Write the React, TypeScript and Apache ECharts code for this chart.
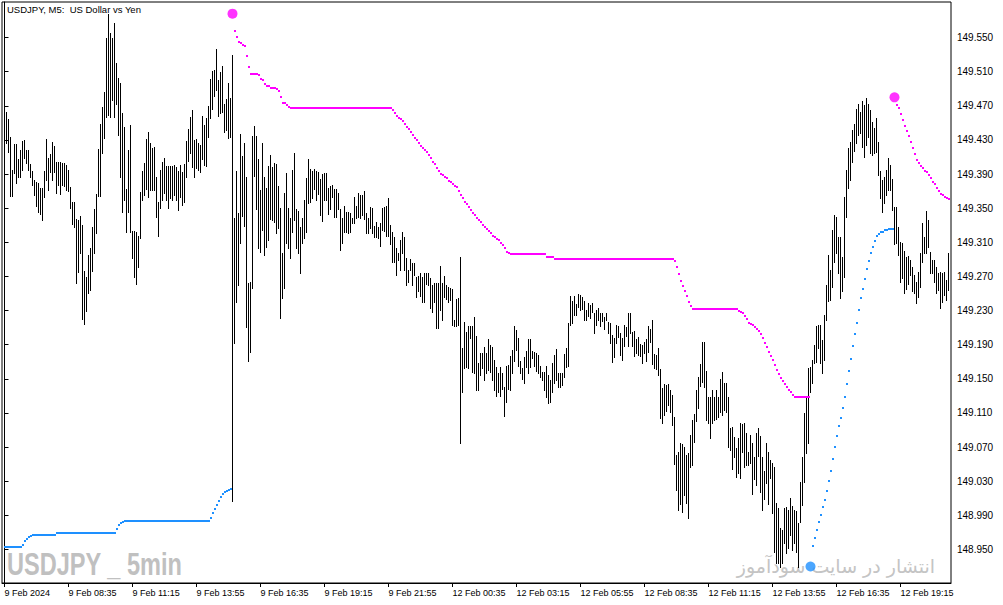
import React, { useEffect, useRef } from "react";
import * as echarts from "echarts";

// Time labels on the x axis (one every 32 five-minute bars)
const TIME_LABELS = [
  "9 Feb 2024", "9 Feb 08:35", "9 Feb 11:15", "9 Feb 13:55", "9 Feb 16:35",
  "9 Feb 19:15", "9 Feb 21:55", "12 Feb 00:35", "12 Feb 03:15", "12 Feb 05:55",
  "12 Feb 08:35", "12 Feb 11:15", "12 Feb 13:55", "12 Feb 16:35", "12 Feb 19:15",
];
const BARS_PER_LABEL = 32;

// Price ticks on the right axis
const PRICE_TICKS = [
  148.95, 148.99, 149.03, 149.07, 149.11, 149.15, 149.19, 149.23,
  149.27, 149.31, 149.35, 149.39, 149.43, 149.47, 149.51, 149.55,
];

// Bar highs (USDJPY M5)
const HIGH = [
  149.446, 149.463, 149.455, 149.433, 149.395, 149.425, 149.425, 149.408, 149.418, 149.429,
  149.430, 149.418, 149.418, 149.402, 149.394, 149.383, 149.381, 149.380, 149.374, 149.374,
  149.394, 149.431, 149.409, 149.413, 149.428, 149.423, 149.404, 149.404, 149.404, 149.403,
  149.403, 149.401, 149.395, 149.375, 149.357, 149.357, 149.337, 149.336, 149.341, 149.330,
  149.276, 149.269, 149.295, 149.303, 149.328, 149.349, 149.367, 149.419, 149.449, 149.469,
  149.486, 149.549, 149.578, 149.555, 149.549, 149.567, 149.520, 149.503, 149.497, 149.462,
  149.445, 149.372, 149.418, 149.447, 149.323, 149.323, 149.322, 149.318, 149.369, 149.394,
  149.403, 149.431, 149.439, 149.426, 149.420, 149.422, 149.387, 149.357, 149.395, 149.404,
  149.409, 149.399, 149.399, 149.399, 149.399, 149.401, 149.398, 149.394, 149.401, 149.392,
  149.402, 149.429, 149.443, 149.457, 149.465, 149.430, 149.431, 149.426, 149.424, 149.458,
  149.447, 149.456, 149.470, 149.501, 149.511, 149.512, 149.537, 149.500, 149.510, 149.517,
  149.472, 149.478, 149.497, 149.479, 149.529, 149.338, 149.394, 149.344, 149.437, 149.411,
  149.426, 149.387, 149.262, 149.263, 149.435, 149.446, 149.435, 149.408, 149.371, 149.426,
  149.387, 149.374, 149.399, 149.412, 149.398, 149.403, 149.402, 149.376, 149.350, 149.298,
  149.368, 149.391, 149.350, 149.338, 149.395, 149.415, 149.349, 149.347, 149.328, 149.338,
  149.360, 149.385, 149.408, 149.396, 149.394, 149.396, 149.394, 149.392, 149.384, 149.390,
  149.391, 149.391, 149.374, 149.376, 149.377, 149.372, 149.372, 149.368, 149.349, 149.338,
  149.353, 149.346, 149.346, 149.344, 149.338, 149.363, 149.353, 149.368, 149.365, 149.365,
  149.370, 149.344, 149.338, 149.351, 149.350, 149.329, 149.334, 149.328, 149.333, 149.350,
  149.351, 149.353, 149.362, 149.330, 149.322, 149.316, 149.303, 149.298, 149.313, 149.322,
  149.316, 149.292, 149.278, 149.290, 149.286, 149.286, 149.269, 149.271, 149.274, 149.269,
  149.274, 149.274, 149.274, 149.268, 149.260, 149.262, 149.262, 149.262, 149.282, 149.262,
  149.271, 149.260, 149.258, 149.256, 149.255, 149.219, 149.244, 149.245, 149.293, 149.186,
  149.217, 149.205, 149.212, 149.212, 149.212, 149.222, 149.200, 149.169, 149.180, 149.180,
  149.187, 149.180, 149.197, 149.190, 149.187, 149.172, 149.164, 149.157, 149.164, 149.157,
  149.140, 149.165, 149.166, 149.177, 149.184, 149.212, 149.207, 149.198, 149.171, 149.163,
  149.176, 149.183, 149.197, 149.197, 149.183, 149.181, 149.180, 149.178, 149.165, 149.158,
  149.158, 149.165, 149.155, 149.149, 149.169, 149.178, 149.185, 149.157, 149.157, 149.157,
  149.179, 149.186, 149.216, 149.247, 149.241, 149.247, 149.238, 149.249, 149.248, 149.246,
  149.241, 149.231, 149.239, 149.237, 149.239, 149.227, 149.231, 149.233, 149.227, 149.227,
  149.222, 149.227, 149.217, 149.216, 149.201, 149.198, 149.213, 149.212, 149.204, 149.198,
  149.213, 149.211, 149.227, 149.227, 149.205, 149.206, 149.197, 149.199, 149.191, 149.190,
  149.193, 149.197, 149.212, 149.208, 149.219, 149.179, 149.178, 149.186, 149.162, 149.139,
  149.144, 149.143, 149.144, 149.137, 149.131, 149.105, 149.061, 149.064, 149.075, 149.074,
  149.070, 149.061, 149.063, 149.084, 149.102, 149.109, 149.137, 149.152, 149.167, 149.193,
  149.193, 149.159, 149.129, 149.129, 149.137, 149.129, 149.137, 149.129, 149.150, 149.158,
  149.145, 149.145, 149.129, 149.092, 149.094, 149.082, 149.069, 149.081, 149.098, 149.097,
  149.098, 149.087, 149.064, 149.084, 149.075, 149.058, 149.087, 149.092, 149.083, 149.058,
  149.042, 149.075, 149.064, 149.055, 149.051, 149.047, 149.005, 148.999, 148.975, 148.973,
  148.999, 149.000, 148.996, 149.010, 149.001, 148.996, 148.995, 148.981, 149.029, 149.058,
  149.110, 149.128, 149.163, 149.164, 149.172, 149.190, 149.212, 149.213, 149.213, 149.196,
  149.225, 149.260, 149.295, 149.278, 149.324, 149.342, 149.340, 149.316, 149.316, 149.293,
  149.363, 149.395, 149.420, 149.428, 149.442, 149.449, 149.466, 149.472, 149.463, 149.476,
  149.471, 149.479, 149.472, 149.465, 149.451, 149.444, 149.456, 149.428, 149.394, 149.383,
  149.387, 149.395, 149.409, 149.401, 149.384, 149.351, 149.351, 149.328, 149.310, 149.309,
  149.300, 149.293, 149.294, 149.289, 149.281, 149.272, 149.263, 149.275, 149.298, 149.333,
  149.316, 149.347, 149.336, 149.299, 149.289, 149.289, 149.281, 149.274, 149.275, 149.274,
  149.275, 149.266, 149.298,
];

// Bar lows
const LOW = [
  149.391, 149.426, 149.416, 149.364, 149.364, 149.391, 149.380, 149.387, 149.387, 149.395,
  149.409, 149.403, 149.395, 149.387, 149.377, 149.365, 149.353, 149.346, 149.343, 149.336,
  149.363, 149.383, 149.371, 149.392, 149.383, 149.392, 149.368, 149.377, 149.367, 149.377,
  149.376, 149.371, 149.370, 149.350, 149.332, 149.328, 149.262, 149.275, 149.298, 149.220,
  149.214, 149.230, 149.251, 149.254, 149.276, 149.298, 149.321, 149.364, 149.364, 149.415,
  149.432, 149.457, 149.459, 149.457, 149.477, 149.457, 149.472, 149.436, 149.387, 149.346,
  149.360, 149.322, 149.346, 149.322, 149.292, 149.269, 149.261, 149.281, 149.315, 149.360,
  149.365, 149.372, 149.363, 149.371, 149.371, 149.371, 149.340, 149.318, 149.350, 149.360,
  149.368, 149.360, 149.350, 149.362, 149.360, 149.365, 149.360, 149.348, 149.363, 149.354,
  149.357, 149.387, 149.405, 149.415, 149.398, 149.387, 149.397, 149.395, 149.392, 149.408,
  149.401, 149.399, 149.433, 149.456, 149.466, 149.481, 149.488, 149.458, 149.462, 149.463,
  149.439, 149.442, 149.432, 149.433, 149.007, 149.192, 149.240, 149.260, 149.309, 149.341,
  149.329, 149.211, 149.171, 149.181, 149.256, 149.388, 149.349, 149.303, 149.299, 149.324,
  149.295, 149.304, 149.313, 149.337, 149.336, 149.334, 149.321, 149.327, 149.221, 149.245,
  149.256, 149.309, 149.303, 149.292, 149.322, 149.336, 149.303, 149.298, 149.274, 149.309,
  149.315, 149.322, 149.356, 149.357, 149.362, 149.372, 149.360, 149.367, 149.342, 149.335,
  149.360, 149.360, 149.343, 149.349, 149.363, 149.340, 149.340, 149.349, 149.301, 149.309,
  149.322, 149.322, 149.321, 149.322, 149.333, 149.333, 149.338, 149.340, 149.338, 149.342,
  149.337, 149.321, 149.321, 149.327, 149.321, 149.316, 149.316, 149.315, 149.306, 149.324,
  149.323, 149.317, 149.317, 149.308, 149.287, 149.287, 149.272, 149.289, 149.278, 149.298,
  149.278, 149.260, 149.263, 149.278, 149.260, 149.272, 149.246, 149.253, 149.247, 149.240,
  149.240, 149.261, 149.260, 149.233, 149.228, 149.240, 149.210, 149.210, 149.231, 149.219,
  149.246, 149.244, 149.240, 149.242, 149.213, 149.212, 149.212, 149.213, 149.075, 149.135,
  149.163, 149.164, 149.163, 149.198, 149.158, 149.157, 149.137, 149.137, 149.155, 149.163,
  149.149, 149.157, 149.160, 149.158, 149.149, 149.137, 149.130, 149.135, 149.130, 149.138,
  149.107, 149.123, 149.138, 149.137, 149.157, 149.171, 149.184, 149.165, 149.157, 149.150,
  149.145, 149.164, 149.157, 149.164, 149.174, 149.165, 149.159, 149.157, 149.152, 149.149,
  149.137, 149.129, 149.122, 149.123, 149.135, 149.145, 149.149, 149.140, 149.140, 149.143,
  149.152, 149.164, 149.165, 149.213, 149.216, 149.225, 149.225, 149.234, 149.231, 149.232,
  149.219, 149.219, 149.224, 149.221, 149.228, 149.204, 149.213, 149.219, 149.212, 149.218,
  149.208, 149.219, 149.204, 149.192, 149.170, 149.176, 149.192, 149.199, 149.178, 149.172,
  149.189, 149.200, 149.189, 149.204, 149.189, 149.177, 149.180, 149.178, 149.177, 149.169,
  149.180, 149.171, 149.181, 149.193, 149.167, 149.163, 149.162, 149.155, 149.104, 149.098,
  149.108, 149.112, 149.119, 149.111, 149.096, 149.050, 149.020, 148.996, 149.003, 148.994,
  149.014, 149.005, 148.987, 149.047, 149.049, 149.076, 149.100, 149.116, 149.142, 149.146,
  149.140, 149.102, 149.098, 149.081, 149.098, 149.102, 149.103, 149.105, 149.111, 149.108,
  149.114, 149.111, 149.070, 149.067, 149.044, 149.058, 149.035, 149.040, 149.034, 149.064,
  149.047, 149.049, 149.049, 149.051, 149.015, 149.033, 149.026, 149.060, 149.017, 148.996,
  149.009, 149.028, 149.003, 149.034, 148.993, 148.947, 148.934, 148.934, 148.930, 148.934,
  148.958, 148.946, 148.952, 148.967, 148.949, 148.958, 148.947, 148.930, 148.982, 149.002,
  149.029, 149.063, 149.075, 149.135, 149.145, 149.169, 149.170, 149.186, 149.169, 149.157,
  149.172, 149.219, 149.241, 149.242, 149.258, 149.287, 149.298, 149.274, 149.245, 149.253,
  149.269, 149.340, 149.374, 149.383, 149.404, 149.417, 149.426, 149.436, 149.438, 149.422,
  149.410, 149.424, 149.433, 149.415, 149.412, 149.415, 149.416, 149.389, 149.362, 149.346,
  149.356, 149.365, 149.371, 149.371, 149.348, 149.308, 149.309, 149.295, 149.263, 149.268,
  149.251, 149.255, 149.261, 149.272, 149.253, 149.251, 149.239, 149.246, 149.258, 149.287,
  149.298, 149.298, 149.304, 149.274, 149.274, 149.263, 149.251, 149.254, 149.233, 149.240,
  149.248, 149.242, 149.254,
];

// Parabolic SAR value for every bar
const SAR = [
  148.953, 148.953, 148.953, 148.953, 148.953, 148.953, 148.953, 148.953, 148.953, 148.955,
  148.960, 148.962, 148.965, 148.966, 148.967, 148.967, 148.967, 148.967, 148.967, 148.967,
  148.967, 148.967, 148.967, 148.967, 148.967, 148.967, 148.969, 148.969, 148.969, 148.969,
  148.969, 148.969, 148.969, 148.969, 148.969, 148.969, 148.969, 148.969, 148.969, 148.969,
  148.969, 148.969, 148.969, 148.969, 148.969, 148.969, 148.969, 148.969, 148.969, 148.969,
  148.969, 148.969, 148.969, 148.969, 148.969, 148.969, 148.974, 148.979, 148.981, 148.982,
  148.983, 148.983, 148.983, 148.983, 148.983, 148.983, 148.983, 148.983, 148.983, 148.983,
  148.983, 148.983, 148.983, 148.983, 148.983, 148.983, 148.983, 148.983, 148.983, 148.983,
  148.983, 148.983, 148.983, 148.983, 148.983, 148.983, 148.983, 148.983, 148.983, 148.983,
  148.983, 148.983, 148.983, 148.983, 148.983, 148.983, 148.983, 148.983, 148.983, 148.983,
  148.983, 148.983, 148.983, 148.987, 148.993, 148.997, 149.002, 149.007, 149.012, 149.015,
  149.017, 149.018, 149.020, 149.021, 149.578, 149.558, 149.551, 149.545, 149.544, 149.541,
  149.540, 149.528, 149.516, 149.507, 149.507, 149.507, 149.507, 149.506, 149.501, 149.500,
  149.496, 149.493, 149.493, 149.491, 149.491, 149.491, 149.490, 149.487, 149.480, 149.473,
  149.473, 149.471, 149.469, 149.467, 149.467, 149.467, 149.467, 149.467, 149.467, 149.467,
  149.467, 149.467, 149.467, 149.467, 149.467, 149.467, 149.467, 149.467, 149.467, 149.467,
  149.467, 149.467, 149.467, 149.467, 149.467, 149.467, 149.467, 149.467, 149.467, 149.467,
  149.467, 149.467, 149.467, 149.467, 149.467, 149.467, 149.467, 149.467, 149.467, 149.467,
  149.467, 149.467, 149.467, 149.467, 149.467, 149.467, 149.467, 149.467, 149.467, 149.467,
  149.467, 149.467, 149.467, 149.467, 149.465, 149.462, 149.458, 149.456, 149.455, 149.452,
  149.449, 149.445, 149.443, 149.439, 149.436, 149.432, 149.430, 149.426, 149.423, 149.420,
  149.418, 149.416, 149.412, 149.409, 149.404, 149.402, 149.397, 149.394, 149.390, 149.389,
  149.387, 149.385, 149.382, 149.381, 149.378, 149.376, 149.375, 149.370, 149.365, 149.362,
  149.357, 149.355, 149.351, 149.348, 149.344, 149.342, 149.338, 149.336, 149.334, 149.330,
  149.328, 149.326, 149.323, 149.321, 149.318, 149.316, 149.314, 149.313, 149.309, 149.307,
  149.303, 149.299, 149.298, 149.296, 149.296, 149.296, 149.296, 149.296, 149.296, 149.296,
  149.296, 149.296, 149.296, 149.296, 149.296, 149.296, 149.296, 149.296, 149.296, 149.296,
  149.296, 149.293, 149.293, 149.293, 149.293, 149.291, 149.291, 149.291, 149.291, 149.291,
  149.291, 149.291, 149.291, 149.291, 149.291, 149.291, 149.291, 149.291, 149.291, 149.291,
  149.291, 149.291, 149.291, 149.291, 149.291, 149.291, 149.291, 149.291, 149.291, 149.291,
  149.291, 149.291, 149.291, 149.291, 149.291, 149.291, 149.291, 149.291, 149.291, 149.291,
  149.291, 149.291, 149.291, 149.291, 149.291, 149.291, 149.291, 149.291, 149.291, 149.291,
  149.291, 149.291, 149.291, 149.291, 149.291, 149.291, 149.291, 149.291, 149.291, 149.291,
  149.291, 149.291, 149.291, 149.291, 149.291, 149.288, 149.281, 149.273, 149.265, 149.259,
  149.253, 149.247, 149.240, 149.235, 149.232, 149.232, 149.232, 149.232, 149.232, 149.232,
  149.232, 149.232, 149.232, 149.232, 149.232, 149.232, 149.232, 149.232, 149.232, 149.232,
  149.232, 149.232, 149.232, 149.232, 149.232, 149.232, 149.232, 149.230, 149.228, 149.227,
  149.224, 149.220, 149.216, 149.214, 149.213, 149.211, 149.208, 149.206, 149.202, 149.198,
  149.192, 149.187, 149.182, 149.177, 149.172, 149.166, 149.160, 149.156, 149.151, 149.148,
  149.144, 149.140, 149.137, 149.134, 149.131, 149.129, 149.129, 149.129, 149.129, 149.129,
  149.129, 149.129, 149.129, 148.930, 148.954, 148.963, 148.973, 148.982, 148.990, 149.000,
  149.008, 149.019, 149.030, 149.042, 149.056, 149.070, 149.083, 149.095, 149.104, 149.116,
  149.129, 149.144, 149.159, 149.173, 149.188, 149.202, 149.216, 149.231, 149.245, 149.255,
  149.267, 149.279, 149.288, 149.298, 149.305, 149.311, 149.317, 149.320, 149.322, 149.322,
  149.324, 149.325, 149.326, 149.326, 149.326, 149.480, 149.471, 149.467, 149.460, 149.453,
  149.446, 149.441, 149.435, 149.428, 149.421, 149.414, 149.406, 149.403, 149.399, 149.397,
  149.394, 149.392, 149.389, 149.385, 149.381, 149.378, 149.374, 149.370, 149.367, 149.365,
  149.363, 149.362, 149.361,
];

const TITLE = "USDJPY, M5:\u00a0 US Dollar vs Yen";
const WATERMARK_LEFT = "USDJPY _ 5min";
const WATERMARK_RIGHT = "انتشار در سایت سودآموز";

const UP_COLOR = "#1E90FF";
const DOWN_COLOR = "#FF00FF";

export default function App() {
  const ref = useRef<HTMLDivElement>(null);

  useEffect(() => {
    if (!ref.current) return;
    const chart = echarts.init(ref.current, null, { renderer: "svg" });

    const bars = HIGH.map((h, i) => [i, h, LOW[i]]);
    const below = SAR.map((s, i) => s < (HIGH[i] + LOW[i]) / 2);
    const upDots: number[][] = [];
    const downDots: number[][] = [];
    const upStart: number[][] = [];
    const downStart: number[][] = [];
    SAR.forEach((s, i) => {
      const flip = i > 0 && below[i] !== below[i - 1];
      if (flip) (below[i] ? upStart : downStart).push([i, s]);
      else (below[i] ? upDots : downDots).push([i, s]);
    });
    const labelValues = TIME_LABELS.map((_, k) => k * BARS_PER_LABEL);
    const font = "Liberation Sans";

    // small SAR squares drawn crisp on the pixel grid
    const dotSeries = (data: number[][], color: string) => ({
      type: "custom",
      silent: true,
      clip: true,
      encode: { x: 0, y: 1 },
      data,
      z: 4,
      renderItem: (_params: any, api: any) => {
        const p = api.coord([api.value(0), api.value(1)]);
        return {
          type: "rect",
          shape: { x: Math.floor(p[0]), y: Math.round(p[1]) - 1, width: 2, height: 2 },
          style: { fill: color },
        };
      },
    });

    chart.setOption({
      animation: false,
      backgroundColor: "#ffffff",
      grid: {
        left: 2,
        right: 52,
        top: 2,
        bottom: 22,
        show: true,
        borderColor: "#000",
        borderWidth: 1,
        backgroundColor: "transparent",
      },
      xAxis: {
        type: "value",
        min: -1.25,
        max: 473.25,
        axisLine: { show: true, onZero: false, lineStyle: { color: "#000", width: 1 } },
        axisTick: {
          show: true,
          length: 4,
          customValues: labelValues,
          lineStyle: { color: "#000", width: 1 },
        },
        axisLabel: {
          customValues: labelValues,
          formatter: (v: number) => TIME_LABELS[Math.round(v / BARS_PER_LABEL)] ?? "",
          align: "left",
          color: "#000",
          fontFamily: font,
          fontSize: 9,
          margin: 5,
        },
        splitLine: { show: false },
      },
      yAxis: {
        type: "value",
        position: "right",
        min: 148.9107,
        max: 149.5917,
        scale: true,
        axisLine: { show: true, lineStyle: { color: "#000", width: 1 } },
        axisTick: {
          show: true,
          length: 4,
          customValues: PRICE_TICKS,
          lineStyle: { color: "#000", width: 1 },
        },
        axisLabel: {
          customValues: PRICE_TICKS,
          formatter: (v: number) => v.toFixed(3),
          color: "#000",
          fontFamily: font,
          fontSize: 10,
          margin: 6,
        },
        splitLine: { show: false },
      },
      graphic: [
        {
          type: "text",
          x: 7,
          y: 9,
          z: 10,
          style: {
            text: TITLE,
            fontFamily: font,
            fontSize: 9.5,
            fill: "#000",
            verticalAlign: "middle",
          },
        },
        {
          type: "text",
          x: 7,
          y: 564,
          scaleX: 0.76,
          z: 0,
          style: {
            text: WATERMARK_LEFT,
            fontFamily: font,
            fontWeight: "bold",
            fontSize: 31,
            fill: "#C0C0C0",
            verticalAlign: "middle",
          },
        },
        {
          type: "text",
          x: 935,
          y: 566,
          z: 0,
          style: {
            text: WATERMARK_RIGHT,
            fontFamily: "DejaVu Sans",
            fontSize: 19,
            fill: "#C4C4C4",
            align: "right",
            verticalAlign: "middle",
          },
        },
      ],
      series: [
        {
          type: "custom",
          silent: true,
          clip: true,
          encode: { x: 0, y: [1, 2] },
          data: bars,
          renderItem: (_params: any, api: any) => {
            const i = api.value(0);
            const p1 = api.coord([i, api.value(1)]);
            const p2 = api.coord([i, api.value(2)]);
            const px = Math.floor(p1[0]) + 0.5;
            return {
              type: "line",
              shape: { x1: px, y1: Math.round(p1[1]), x2: px, y2: Math.round(p2[1]) + 1 },
              style: { stroke: "#000", lineWidth: 1 },
            };
          },
          z: 3,
        },
        dotSeries(upDots, UP_COLOR),
        dotSeries(downDots, DOWN_COLOR),
        {
          type: "scatter",
          data: upStart,
          symbol: "circle",
          symbolSize: 10,
          itemStyle: { color: UP_COLOR },
          silent: true,
          z: 5,
        },
        {
          type: "scatter",
          data: downStart,
          symbol: "circle",
          symbolSize: 10,
          itemStyle: { color: DOWN_COLOR },
          silent: true,
          z: 5,
        },
      ],
    });

    return () => {
      chart.dispose();
    };
  }, []);

  return (
    <div
      ref={ref}
      style={{ position: "fixed", left: 0, top: 0, width: 1003, height: 605, background: "#fff" }}
    />
  );
}
